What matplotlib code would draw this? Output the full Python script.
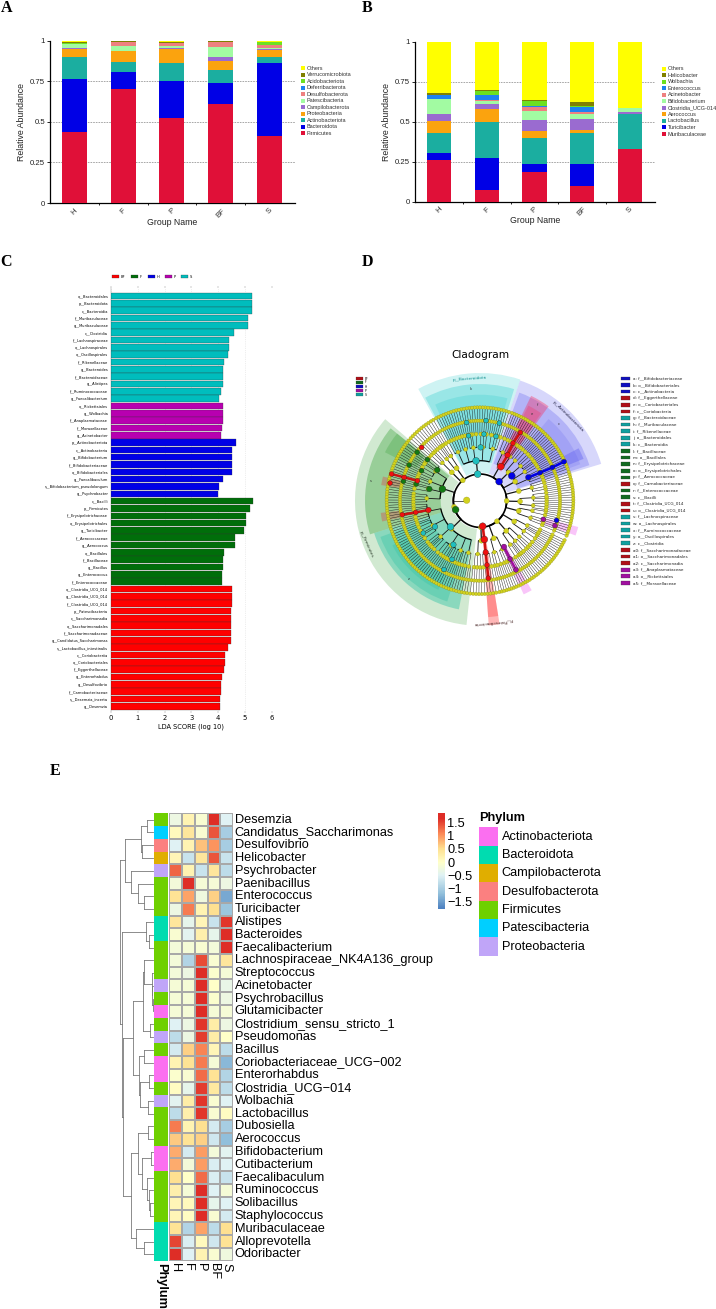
import numpy as np
import matplotlib
matplotlib.use("Agg")
import matplotlib.pyplot as plt
from matplotlib.colors import LinearSegmentedColormap, ListedColormap, Normalize
from matplotlib.cm import ScalarMappable
from matplotlib.patches import Rectangle

W, H = 716, 1309
SANS = ["Liberation Sans", "DejaVu Sans"]

# ------------------ Panel A / B data
GROUPS = ["H", "F", "P", "BF", "S"]
A_TAXA = ["Firmicutes", "Bacteroidota", "Actinobacteriota", "Proteobacteria", "Campilobacterota",
          "Patescibacteria", "Desulfobacterota", "Deferribacterota", "Acidobacteriota",
          "Verrucomicrobiota", "Others"]
A_H = [.44, .327, .133, .047, .010, .020, .005, .000, .001, .012, .005]
A_F = [.70, .107, .063, .065, .003, .032, .022, .000, .000, .005, .003]
A_P = [.525, .225, .110, .090, .005, .010, .020, .000, .000, .008, .007]
A_BF = [.61, .127, .083, .055, .025, .060, .035, .000, .000, .003, .002]
A_S = [.415, .445, .040, .045, .005, .003, .020, .000, .020, .000, .007]

B_TAXA = ["Muribaculaceae", "Turicibacter", "Lactobacillus", "Aerococcus", "Clostridia_UCG-014",
          "Bifidobacterium", "Acinetobacter", "Enterococcus", "Wolbachia", "Helicobacter", "Others"]
B_H = [.26, .045, .125, .075, .045, .090, .002, .025, .002, .010, .321]
B_F = [.075, .20, .225, .080, .030, .020, .003, .035, .025, .004, .303]
B_P = [.185, .05, .165, .045, .065, .055, .030, .003, .030, .007, .365]
B_BF = [.095, .14, .195, .020, .070, .030, .010, .030, .010, .025, .375]
B_S = [.33, .002, .215, .003, .008, .025, .000, .000, .000, .005, .412]

STACK_COLORS = ["#E01038", "#0000E6", "#1BAEA0", "#FBA30E", "#9A6BD0", "#A2FBA2",
                "#EE8080", "#1E82F0", "#6CE020", "#808000", "#FFFF00"]

# ------------------ Panel C data
C_S_NAMES = ["o__Bacteroidales", "p__Bacteroidota", "c__Bacteroidia", "f__Muribaculaceae", "g__Muribaculaceae",
             "c__Clostridia", "f__Lachnospiraceae", "o__Lachnospirales", "o__Oscillospirales", "f__Rikenellaceae",
             "g__Bacteroides", "f__Bacteroidaceae", "g__Alistipes", "f__Ruminococcaceae", "g__Faecalibacterium"]
C_S_VALS = [5.25, 5.25, 5.25, 5.13, 5.13, 4.60, 4.40, 4.40, 4.36, 4.21, 4.20, 4.20, 4.17, 4.10, 4.02]
C_P_NAMES = ["o__Rickettsiales", "g__Wolbachia", "f__Anaplasmataceae", "f__Moraxellaceae", "g__Acinetobacter"]
C_P_VALS = [4.20, 4.20, 4.20, 4.13, 4.11]
C_H_NAMES = ["p__Actinobacteriota", "c__Actinobacteria", "g__Bifidobacterium", "f__Bifidobacteriaceae",
             "o__Bifidobacteriales", "g__Faecalibaculum", "s__Bifidobacterium_pseudolongum", "g__Psychrobacter"]
C_H_VALS = [4.66, 4.53, 4.50, 4.50, 4.50, 4.18, 4.05, 4.01]
C_F_NAMES = ["c__Bacilli", "p__Firmicutes", "f__Erysipelotrichaceae", "o__Erysipelotrichales", "g__Turicibacter",
             "f__Aerococcaceae", "g__Aerococcus", "o__Bacillales", "f__Bacillaceae", "g__Bacillus",
             "g__Enterococcus", "f__Enterococcaceae"]
C_F_VALS = [5.29, 5.18, 5.03, 5.03, 4.98, 4.62, 4.62, 4.21, 4.18, 4.17, 4.15, 4.15]
C_BF_NAMES = ["o__Clostridia_UCG_014", "g__Clostridia_UCG_014", "f__Clostridia_UCG_014", "p__Patescibacteria",
              "c__Saccharimonadia", "o__Saccharimonadales", "f__Saccharimonadaceae", "g__Candidatus_Saccharimonas",
              "s__Lactobacillus_intestinalis", "c__Coriobacteriia", "o__Coriobacteriales", "f__Eggerthellaceae",
              "g__Enterorhabdus", "g__Desulfovibrio", "f__Carnobacteriaceae", "s__Desemzia_incerta", "g__Desemzia"]
C_BF_VALS = [4.50, 4.50, 4.50, 4.47, 4.47, 4.47, 4.47, 4.47, 4.37, 4.27, 4.27, 4.22, 4.16, 4.11, 4.10, 4.06, 4.06]
LDA_GROUPS = ["BF", "F", "H", "P", "S"]
LDA_COLORS = ["#FF0000", "#006E0A", "#0000E6", "#B800B0", "#00BDBD"]

# ------------------ Panel D data
# phylum: (first angle, last angle, classes); class -> orders -> families (number of genera)
CLADE_TREE = [
    (140, 262, [[[1, 2, 1, 1, 3, 1], [2, 1, 1, 2], [1, 1, 3], [2, 1, 2, 1]],
                [[2, 1, 1, 3, 1, 2, 1], [1, 2, 2, 1, 1, 3], [2, 1, 1, 1, 2], [3, 1, 2, 1, 1, 2], [1, 2, 1, 1], [2, 1, 3]]]),
    (72, 118, [[[1, 2, 1, 3], [2, 1, 2], [3, 1, 1, 2], [1, 2, 1], [2, 1, 2, 1]]]),
    (20, 70, [[[2, 1, 1, 3], [1, 2, 1]], [[1, 2, 2, 1], [3, 1]], [[2, 1, 1, 2], [1, 2, 1, 3]]]),
    (120, 138, [[[2, 1, 1], [1, 2]], [[1, 1, 2]]]),
    (-22, 18, [[[2, 1, 2], [3, 1]], [[1, 2, 1], [2, 1, 1, 3]], [[1, 2, 2, 1]]]),
    (-78, -25, [[[2, 1, 3], [1, 2, 1, 2]], [[3, 1, 1], [1, 2, 2], [1, 2]], [[2, 3, 1], [1, 1, 2]]]),
    (-96, -80, [[[2, 1, 2], [1, 3, 1]]]),
]
CLADE_RADII = [80, 120, 160, 200, 240, 280]
WEDGE_FROM = [71.6, 73, 75, 16.9, 18, 20, 22, 54, 55, 139.3, 141, 141, 197, 200, 207, 166, 187,
              -20, -65, -86, -86]
WEDGE_TO = [118.9, 118, 115, 71.6, 70, 50, 28, 64, 63, 263.8, 197, 153, 259, 252, 245, 171, 192,
            -15, -60, -81, -81]
WEDGE_IN = [85, 118, 158, 85, 118, 158, 270, 108, 150, 85, 118, 215, 118, 158, 240, 240, 240,
            190, 150, 80, 280]
WEDGE_OUT = [383, 350, 318, 380, 345, 320, 335, 350, 320, 375, 345, 320, 332, 318, 295, 300, 300,
             305, 310, 375, 350]
WEDGE_COLOR = ["#20C9C9"] * 3 + ["#6060F0"] * 4 + ["#FF2050"] * 2 + ["#2E9E2E"] * 3 + ["#20C0A0"] * 3 + \
              ["#E04040"] * 2 + ["#F070F0"] * 2 + ["#FF3030"] * 2
WEDGE_ALPHA = [.22, .30, .22, .25, .30, .20, .40, .35, .25, .22, .35, .25, .40, .30, .25, .35, .35,
               .40, .40, .35, .30]
HIGHLIGHT_THETA = [95, 95.7, 89.3, 100, 86.6, 76, 99.7, 85.7, 76, 221.5, 210, 209.7, 238.8, 244.5, 242.4,
                   45, 38, 25.8, 25, 24.7, 24.9, -14.4,
                   200.3, 162.8, 144.3, 142, 142.4, 152.8, 153.3, 167, 165.4, 165.8,
                   -84, -83.6, -83.7, -83.8, -83.9, 190.2, 190.3, 190.2, 162.3, 162.9, 163.2, 168.9, 137.6,
                   58.6, 58.8, 60.2, 59.4,
                   -16.4, -18.4, -62.6, -62.7, -62.5]
HIGHLIGHT_RADIUS = [80, 120, 160, 198, 200, 199, 238, 241, 240, 118, 156, 196, 154, 195, 233,
                    81, 121, 161, 199, 239, 278, 237,
                    78, 118, 158, 200, 238, 197, 238, 156, 198, 237,
                    77, 117, 156, 194, 234, 157, 196, 237, 197, 238, 277, 275, 237,
                    120, 160, 199, 238,
                    198, 237, 156, 197, 234]
HIGHLIGHT_COLOR = ["#1FBFBF"] * 15 + ["#0000E6"] * 7 + ["#127A12"] * 10 + ["#F01010"] * 13 + \
                  ["#F01010"] * 4 + ["#A010A0"] * 5
CHAIN_THETA = [[25.8, 25, 24.7, 24.9], [-84, -83.6, -83.7, -83.8, -83.9], [190.2, 190.3, 190.2],
               [162.3, 162.9, 163.2], [58.6, 58.8, 60.2, 59.4], [-62.6, -62.7, -62.5]]
CHAIN_RADIUS = [[161, 199, 239, 278], [77, 117, 156, 194, 234], [157, 196, 237],
                [197, 238, 277], [120, 160, 199, 238], [156, 197, 234]]
CHAIN_COLOR = ["#0000E6", "#D01010", "#D01010", "#D01010", "#D01010", "#A010A0"]
CLADE_LEGEND = ["a: f__Bifidobacteriaceae", "b: o__Bifidobacteriales", "c: c__Actinobacteria", "d: f__Eggerthellaceae",
                "e: o__Coriobacteriales", "f: c__Coriobacteria", "g: f__Bacteroidaceae", "h: f__Muribaculaceae",
                "i: f__Rikenellaceae", "j: o__Bacteroidales", "k: c__Bacteroidia", "l: f__Bacillaceae",
                "m: o__Bacillales", "n: f__Erysipelotrichaceae", "o: o__Erysipelotrichales", "p: f__Aerococcaceae",
                "q: f__Carnobacteriaceae", "r: f__Enterococcaceae", "s: c__Bacilli", "t: f__Clostridia_UCG_014",
                "u: o__Clostridia_UCG_014", "v: f__Lachnospiraceae", "w: o__Lachnospirales", "x: f__Ruminococcaceae",
                "y: o__Oscillospirales", "z: c__Clostridia", "a0: f__Saccharimonadaceae", "a1: o__Saccharimonadales",
                "a2: c__Saccharimonadia", "a3: f__Anaplasmataceae", "a4: o__Rickettsiales", "a5: f__Moraxellaceae"]
CLADE_LEGEND_GROUP = [2] * 3 + [0] * 3 + [4] * 5 + [1] * 5 + [0] + [1] * 2 + [0] * 2 + [4] * 5 + [0] * 3 + [3] * 3
LEG_COLORS = ["#B01018", "#126A20", "#1010C0", "#A010A0", "#10A0A0"]

# ------------------ Panel E data
GENERA = ["Desemzia", "Candidatus_Saccharimonas", "Desulfovibrio", "Helicobacter", "Psychrobacter", "Paenibacillus",
          "Enterococcus", "Turicibacter", "Alistipes", "Bacteroides", "Faecalibacterium",
          "Lachnospiraceae_NK4A136_group", "Streptococcus", "Acinetobacter", "Psychrobacillus", "Glutamicibacter",
          "Clostridium_sensu_stricto_1", "Pseudomonas", "Bacillus", "Coriobacteriaceae_UCG\u2212002", "Enterorhabdus",
          "Clostridia_UCG\u2212014", "Wolbachia", "Lactobacillus", "Dubosiella", "Aerococcus", "Bifidobacterium",
          "Cutibacterium", "Faecalibaculum", "Ruminococcus", "Solibacillus", "Staphylococcus", "Muribaculaceae",
          "Alloprevotella", "Odoribacter"]
HEAT_H = [-.3, .1, -.5, .15, 1.3, -.2, .45, -.3, .4, -.1, -.2, -.2, -.2, -.15, -.15, -.15, -.5, -.8, -.6, .2, -.05,
          .05, -.45, -.8, 1.15, .65, .85, .85, .5, .25, .15, .15, .45, 1.5, 1.7]
HEAT_F = [.2, .4, .2, -.7, .2, 1.7, .9, 1.15, -.4, -.45, -.15, -.9, -.3, -.15, -.15, -.15, -.3, -.3, .6, .45, -.1,
          -.4, .3, .25, .2, .45, -.6, -.2, 0, -.15, .1, .05, -.9, -.55, -.5]
HEAT_P = [-.1, -.1, .7, .4, -.7, -.15, -.25, .2, .15, .25, -.1, 1.45, 1.7, 1.7, 1.75, 1.75, 1.6, 1.55, 1.1, 1.15, 1.25,
          1.55, 1.6, 1.6, .5, .6, .95, .95, 1.25, 1.65, 1.7, 1.75, .9, .1, .2]
HEAT_BF = [1.7, 1.4, 1.0, 1.4, .4, -.15, .6, .5, -.7, -.4, -.2, -.1, -.05, 0, -.05, -.15, .3, .3, .15, -.15, .45,
           .35, -.1, -.1, -.6, -.65, -.2, -.55, -.55, -.5, -.4, -.1, -.8, -.65, -.1]
HEAT_S = [-.5, -1.0, -1.0, -.7, -.8, -.3, -1.4, -1.1, 1.6, 1.7, 1.75, .4, -.15, -.35, -.3, -.15, -.3, 0, -.8, -1.25,
          -.9, -.8, -.5, .05, -1.0, -1.2, -.45, -.5, -.7, -.15, -.5, -.6, .5, .45, -.25]
PHYLA = ["Actinobacteriota", "Bacteroidota", "Campilobacterota", "Desulfobacterota", "Firmicutes",
         "Patescibacteria", "Proteobacteria"]
PHYLA_COLORS = ["#FB6FF0", "#00DCB0", "#E0AE00", "#FB8080", "#6ED000", "#00CFFF", "#C0A5F8"]
ROW_PHYLUM = [4, 5, 3, 2, 6, 4, 4, 4, 1, 1, 4, 4, 4, 6, 4, 0, 4, 6, 4, 0, 0, 4, 6, 4, 4, 4, 0, 0, 4, 4, 4, 4, 1, 1, 1]
COLOR_TICKS = [-1.5, -1, -.5, 0, .5, 1, 1.5]
COLOR_TICK_LABELS = ["\u22121.5", "\u22121", "\u22120.5", "0", "0.5", "1", "1.5"]
# merge position, then the two branches (row numbers at the tips)
ROW_TREE = (60,
            (75,
             (122, (142, 0, 1), (125, 2, 3)),
             (92, 4, (115, 5, (133, 6, 7)))),
            (67,
             (138, 8, (148, 9, 10)),
             (70,
              (100,
               (130, (133, 11, (155, 12, (156, 13, (158, 14, 15)))), (150, 16, 17)),
               (118, (133, 18, 19), (120, (148, 20, 21), (143, 22, 23)))),
              (92,
               (115, (143, 24, 25), (125, (152, 26, 27), (140, 28, (147, 29, (150, 30, 31))))),
               (108, 32, (133, 33, 34))))))

# ------------------ helpers
fig = plt.figure(figsize=(W / 100, H / 100), dpi=100, facecolor="white")


def axpx(x0, y0, x1, y1, **kw):
    return fig.add_axes([x0 / W, 1 - y1 / H, (x1 - x0) / W, (y1 - y0) / H], **kw)


def figtext(x, y, s, **kw):
    return fig.text(x / W, 1 - y / H, s, **kw)


def stacked(box, rows, taxa, barw, legx, legy):
    ax = axpx(*box)
    vals = np.array(rows)
    x = np.arange(len(GROUPS))
    bottom = np.zeros(len(GROUPS))
    for j, name in enumerate(taxa):
        ax.bar(x, vals[:, j], bottom=bottom, width=barw, color=STACK_COLORS[j], linewidth=0, zorder=3)
        bottom += vals[:, j]
    ax.set_xlim(-.505, 4.53)
    ax.set_ylim(0, 1)
    for v in (.25, .5, .75):
        ax.axhline(v, color="#999999", lw=.6, ls=(0, (2, 1.2)), zorder=1)
    for s in ("top", "right"):
        ax.spines[s].set_visible(False)
    for s in ("left", "bottom"):
        ax.spines[s].set_linewidth(.9)
    ax.set_yticks([0, .25, .5, .75, 1])
    ax.set_yticklabels(["0", "0.25", "0.5", "0.75", "1"], fontsize=5.6, family=SANS, color="#222222")
    ax.tick_params(axis="y", length=2, width=.6, pad=1.5)
    ax.set_xticks(x)
    ax.set_xticklabels(GROUPS, rotation=45, fontsize=5.6, family=SANS, color="#333333", ha="center")
    ax.tick_params(axis="x", length=0, pad=3)
    ax.set_xticks(x[:-1] + .5, minor=True)
    ax.tick_params(axis="x", which="minor", length=1.5, width=.6)
    ax.set_xlabel("Group Name", fontsize=6.3, family=SANS, color="#222222", labelpad=-1)
    ax.set_ylabel("Relative Abundance", fontsize=6.3, family=SANS, color="#222222", labelpad=3)
    for j, name in enumerate(taxa):
        y = legy + (len(taxa) - 1 - j) * 6.53
        fig.patches.append(Rectangle((legx / W, 1 - (y + 2) / H), 4.5 / W, 4 / H, transform=fig.transFigure,
                                     color=STACK_COLORS[j], lw=0))
        figtext(legx + 6, y, name, fontsize=4.0, family=SANS, color="#333333", va="center")


stacked((50, 40.7, 295, 203), [A_H, A_F, A_P, A_BF, A_S], A_TAXA, .514, 300.5, 68)
stacked((415, 41.7, 655, 201.7), [B_H, B_F, B_P, B_BF, B_S], B_TAXA, .51, 661.5, 68.7)

for lab, x, y in (("A", 7, 8), ("B", 367, 8), ("C", 6, 262), ("D", 367, 262), ("E", 55, 771)):
    figtext(x, y, lab, fontsize=11.5, family="Liberation Serif", fontweight="bold", ha="center", va="center")

# ------------------ Panel C
axc = axpx(111, 288, 271.7, 711)
c_names = C_S_NAMES + C_P_NAMES + C_H_NAMES + C_F_NAMES + C_BF_NAMES
c_vals = C_S_VALS + C_P_VALS + C_H_VALS + C_F_VALS + C_BF_VALS
c_cols = [LDA_COLORS[4]] * 15 + [LDA_COLORS[3]] * 5 + [LDA_COLORS[2]] * 8 + [LDA_COLORS[1]] * 12 + [LDA_COLORS[0]] * 17
yy = np.arange(len(c_names))
axc.barh(yy, c_vals, height=.9, color=c_cols, edgecolor="#333333", linewidth=.2, zorder=3)
axc.set_xlim(0, 6)
axc.set_ylim(len(c_names) - .35, -1.1)
axc.set_yticks(yy)
axc.set_yticklabels(c_names, fontsize=2.65)
axc.tick_params(axis="y", length=0, pad=2)
axc.set_xticks(range(7))
axc.tick_params(axis="x", labelsize=4.9, length=1.5, width=.3, pad=1.5, top=True, color="#888888")
axc.grid(axis="x", color="#DDDDDD", lw=.5, ls=":", zorder=0)
for s in ("top", "right", "bottom"):
    axc.spines[s].set_visible(False)
axc.spines["left"].set_linewidth(.3)
axc.spines["left"].set_color("#888888")
axc.set_xlabel("LDA SCORE (log 10)", fontsize=4.8, labelpad=1.5)
for i, (g, c) in enumerate(zip(LDA_GROUPS, LDA_COLORS)):
    x0 = [112, 130.7, 147.5, 165, 181][i]
    fig.patches.append(Rectangle((x0 / W, 1 - 278 / H), 7 / W, 2.6 / H, transform=fig.transFigure,
                                 facecolor=c, edgecolor="#333333", lw=.2))
    figtext(x0 + 9, 276.7, g, fontsize=2.6, va="center")

# ------------------ Panel D
axd = axpx(350, 370.7, 610, 630.7, projection="polar")
axd.set_rlim(0, 390)
axd.set_axis_off()
rad = np.deg2rad
for a, b, r0, r1, c, al in zip(WEDGE_FROM, WEDGE_TO, WEDGE_IN, WEDGE_OUT, WEDGE_COLOR, WEDGE_ALPHA):
    axd.bar(rad((a + b) / 2), r1 - r0, width=rad(b - a), bottom=r0, color=c, alpha=al, linewidth=0, zorder=1)

YEL = "#D2D21E"
node_t, node_r, node_s = [], [], []


def line_w(level):
    return [1.2, .9, .6, .35, .3, .3][level]


def count_leaves(n):
    return n if isinstance(n, int) else sum(count_leaves(c) for c in n)


def arc(t0, t1, r, lw):
    ts = np.linspace(t0, t1, max(2, int(abs(t1 - t0)) + 2))
    axd.plot(rad(ts), np.full(ts.size, r), color="k", lw=lw, zorder=2, solid_capstyle="butt")


def spoke(t, r0, r1, lw):
    axd.plot(rad([t, t]), [r0, r1], color="#151515", lw=lw, zorder=2, solid_capstyle="butt")


def walk(node, level, cursor, step):
    """Return the angle of this node; cursor[0] is the next free tip angle."""
    r = CLADE_RADII[level]
    if isinstance(node, int):
        ts = []
        for _ in range(node):
            t = cursor[0]
            cursor[0] += step
            ts.append(t)
            spoke(t, CLADE_RADII[level], CLADE_RADII[level + 2], .3)
            node_t.extend([t, t]), node_r.extend(CLADE_RADII[level + 1:level + 3]), node_s.extend([6, 6])
    else:
        ts = [walk(c, level + 1, cursor, step) for c in node]
        for t in ts:
            spoke(t, r, CLADE_RADII[level + 1], line_w(level + 1))
    mid = (ts[0] + ts[-1]) / 2
    if len(ts) > 1:
        arc(ts[0], ts[-1], r, line_w(level))
    node_t.append(mid), node_r.append(r), node_s.append(8 if level > 1 else 13)
    return mid


for a, b, classes in CLADE_TREE:
    n = count_leaves(classes)
    walk(classes, 0, [a], (b - a) / max(n - 1, 1))
arc(-96, 264, CLADE_RADII[0], 1.2)
spoke(180, 40, CLADE_RADII[0], .5)
node_t.append(178), node_r.append(40), node_s.append(22)
axd.scatter(rad(np.array(node_t)), node_r, s=node_s, c=YEL, edgecolors="#8A8A18", linewidths=.2, zorder=4)

for ts, rs, c in zip(CHAIN_THETA, CHAIN_RADIUS, CHAIN_COLOR):
    axd.plot(rad(np.array(ts)), rs, color=c, lw=1.8, zorder=5)
hs = [24 if r < 125 else (16 if r < 170 else 12) for r in HIGHLIGHT_RADIUS]
axd.scatter(rad(np.array(HIGHLIGHT_THETA)), HIGHLIGHT_RADIUS, s=hs, c=HIGHLIGHT_COLOR, edgecolors="#222222",
            linewidths=.25, zorder=6)

for s, t, r, rot, col in (("p__Bacteroidota", 95, 368, 4, "#109090"), ("p__Actinobacteriota", 43.9, 366, -45, "#222244"),
                          ("p__Firmicutes", 201, 364, -66, "#223322"), ("p__Patescibacteria", -84, 365, 185, "#442222")):
    axd.text(rad(t), r, s, fontsize=3.1, rotation=rot, rotation_mode="anchor", ha="center", va="center", color=col, zorder=7)
for s, t, r in (("k", 95, 335), ("c", 44, 330), ("f", 59, 335), ("e", 59, 305), ("s", 170, 332), ("z", 228, 318)):
    axd.text(rad(t), r, s, fontsize=2.6, ha="center", va="center", color="#333333", zorder=7)
figtext(480.7, 355, "Cladogram", fontsize=7.6, ha="center", va="center")

for i, (g, c) in enumerate(zip(LDA_GROUPS, LEG_COLORS)):
    y = 378.5 + i * 4
    fig.patches.append(Rectangle((356 / W, 1 - (y + 1.2) / H), 7 / W, 2.4 / H, transform=fig.transFigure,
                                 facecolor=c, edgecolor="#333333", lw=.15))
    figtext(365, y, g, fontsize=2.2, va="center")
for i, (s, g) in enumerate(zip(CLADE_LEGEND, CLADE_LEGEND_GROUP)):
    y = 378.3 + i * 6.6
    fig.patches.append(Rectangle((620.7 / W, 1 - (y + 1.8) / H), 9.3 / W, 3.6 / H, transform=fig.transFigure,
                                 facecolor=LEG_COLORS[g], edgecolor="#333333", lw=.2))
    figtext(633.3, y, s, fontsize=3.0, va="center", color="#222222")

# ------------------ Panel E
VMIN, VMAX = -1.77, 1.84
stops = [-1.77, -1.2, -.5, 0, .5, 1.05, 1.65, 1.84]
stop_colors = ["#4B7FC0", "#91BFDB", "#E0F2F4", "#FFFFC8", "#FEE090", "#FC8D59", "#DE2D26", "#DE2D26"]
heat_cmap = LinearSegmentedColormap.from_list("rdylbu", [((s - VMIN) / (VMAX - VMIN), c) for s, c in zip(stops, stop_colors)])
norm = Normalize(VMIN, VMAX)
heat = np.column_stack([HEAT_H, HEAT_F, HEAT_P, HEAT_BF, HEAT_S])
n_rows = len(GENERA)
axh = axpx(169, 813.3, 233.3, 1260.7)
axh.pcolormesh(np.arange(6), np.arange(n_rows + 1), heat, cmap=heat_cmap, norm=norm, edgecolors="#A8A8A8", linewidth=.3)
axh.set_xlim(0, 5)
axh.set_ylim(n_rows, 0)
axh.axis("off")
for i, g in enumerate(GENERA):
    axh.text(5.12, i + .5, g, fontsize=9.2, family=SANS, va="center", ha="left", clip_on=False)
for j, g in enumerate(GROUPS):
    axh.text(j + .5, n_rows + .2, g, fontsize=9.2, family=SANS, rotation=270, ha="center", va="top", clip_on=False)

axp = axpx(154.3, 813.3, 167.7, 1260.7)
axp.pcolormesh([0, 1], np.arange(n_rows + 1), np.array(ROW_PHYLUM)[:, None], cmap=ListedColormap(PHYLA_COLORS),
               vmin=-.5, vmax=6.5)
axp.set_ylim(n_rows, 0)
axp.axis("off")
axp.text(.5, n_rows + .2, "Phylum", fontsize=9.2, fontweight="bold", family=SANS, rotation=270, ha="center", va="top",
         clip_on=False)

axt = axpx(120, 813.3, 153.3, 1260.7)
axt.set_xlim(60, 160)
axt.set_ylim(n_rows, 0)
axt.axis("off")


def dendro(node):
    if isinstance(node, int):
        return 160, node + .5
    x = node[0]
    pts = [dendro(c) for c in node[1:]]
    ys = [p[1] for p in pts]
    for px, py in pts:
        axt.plot([x, px], [py, py], color="#7A7A7A", lw=.6, solid_capstyle="projecting", clip_on=False)
    axt.plot([x, x], [min(ys), max(ys)], color="#7A7A7A", lw=.6, solid_capstyle="projecting", clip_on=False)
    return x, (min(ys) + max(ys)) / 2


dendro(ROW_TREE)

axcb = axpx(438.3, 813.3, 444.5, 909)
cb = fig.colorbar(ScalarMappable(norm=norm, cmap=heat_cmap), cax=axcb)
cb.set_ticks(COLOR_TICKS)
cb.set_ticklabels(COLOR_TICK_LABELS)
cb.ax.tick_params(length=0, pad=1.8, labelsize=9.2)
for t in cb.ax.get_yticklabels():
    t.set_family(SANS)
cb.outline.set_visible(False)

figtext(479.3, 818.5, "Phylum", fontsize=9.2, fontweight="bold", family=SANS, va="center")
for i, (p, c) in enumerate(zip(PHYLA, PHYLA_COLORS)):
    y0 = 827.3 + i * 18.34
    fig.patches.append(Rectangle((479.3 / W, 1 - (y0 + 18.34) / H), 18.4 / W, 18.34 / H, transform=fig.transFigure,
                                 color=c, lw=0))
    figtext(501.7, y0 + 9.2, p, fontsize=9.2, family=SANS, va="center")

fig.savefig("out.png", dpi=100)
